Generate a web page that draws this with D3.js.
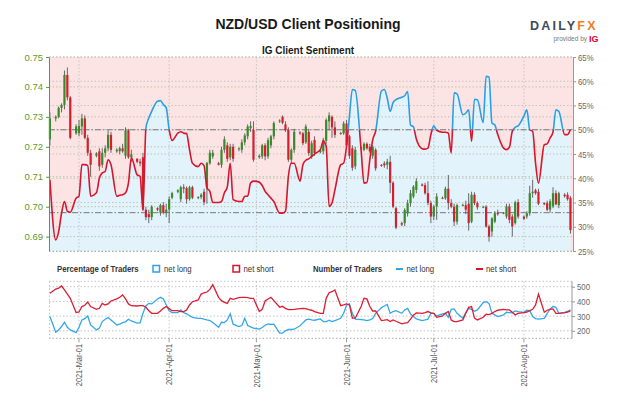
<!DOCTYPE html>
<html>
<head>
<meta charset="utf-8">
<script src="https://cdn.jsdelivr.net/npm/d3@7"></script>
<style>
  body { margin: 0; background: #fff; }
  svg { display: block; font-family: "Liberation Sans", Arial, sans-serif; }
</style>
</head>
<body>
<svg id="chart" width="624" height="416"></svg>
<script>
// one row per week (Sun..Fri), [open, high, low, close]
const ohlc = [
  [.7225,.7315,.7205,.7295],
  [.7295,.7305,.7285,.7300],[.7300,.7335,.7295,.7330],[.7330,.7345,.7315,.7340],[.7340,.7455,.7325,.7440],[.7440,.7465,.7355,.7365],[.7365,.7370,.7225,.7230],
  [.7245,.7275,.7240,.7268],[.7245,.7290,.7235,.7270],[.7268,.7310,.7240,.7295],[.7295,.7305,.7225,.7230],[.7230,.7240,.7170,.7180],[.7180,.7190,.7100,.7140],
  [.7170,.7182,.7165,.7178],[.7185,.7195,.7120,.7135],[.7140,.7195,.7130,.7180],[.7180,.7205,.7165,.7195],[.7195,.7255,.7185,.7240],[.7240,.7250,.7180,.7190],
  [.7185,.7195,.7180,.7190],[.7185,.7200,.7175,.7195],[.7195,.7210,.7180,.7185],[.7170,.7265,.7160,.7255],[.7255,.7260,.7160,.7165],[.7165,.7190,.7150,.7175],
  [.7160,.7162,.7145,.7150],[.7150,.7160,.7135,.7145],[.7165,.7180,.6985,.6990],[.6990,.7000,.6955,.6965],[.6975,.6990,.6945,.6965],[.6965,.7005,.6955,.7000],
  [.6995,.6998,.6985,.6990],[.6980,.7010,.6970,.7005],[.7005,.7015,.6975,.6980],[.6980,.7010,.6965,.6990],[.6990,.7035,.6945,.7025],[.7030,.7050,.7025,.7045],
  [.7050,.7058,.7045,.7055],[.7025,.7070,.7015,.7065],[.7065,.7075,.7045,.7060],[.7062,.7068,.7010,.7025],[.7025,.7070,.7020,.7065],[.7065,.7070,.7025,.7030],
  [.7030,.7035,.7025,.7032],[.7032,.7045,.7025,.7040],[.7050,.7060,.7005,.7015],[.7062,.7150,.7010,.7146],[.7145,.7190,.7140,.7180],[.7168,.7190,.7160,.7180],
  [.7145,.7150,.7138,.7140],[.7140,.7200,.7130,.7190],[.7190,.7235,.7180,.7225],[.7205,.7215,.7150,.7160],[.7165,.7210,.7155,.7200],[.7200,.7210,.7150,.7160],
  [.7192,.7198,.7185,.7195],[.7190,.7225,.7180,.7215],[.7215,.7245,.7205,.7238],[.7235,.7275,.7225,.7268],[.7262,.7285,.7250,.7270],[.7257,.7285,.7150,.7157],
  [.7165,.7175,.7160,.7170],[.7168,.7210,.7160,.7205],[.7205,.7212,.7155,.7168],[.7168,.7230,.7160,.7222],[.7205,.7240,.7195,.7235],[.7235,.7285,.7225,.7279],
  [.7285,.7292,.7280,.7288],[.7300,.7305,.7275,.7280],[.7275,.7285,.7250,.7255],[.7257,.7265,.7150,.7157],[.7157,.7195,.7145,.7190],[.7190,.7260,.7180,.7250],
  [.7248,.7252,.7240,.7246],[.7245,.7250,.7205,.7212],[.7215,.7275,.7210,.7268],[.7250,.7260,.7170,.7179],[.7168,.7220,.7160,.7212],[.7223,.7235,.7170,.7179],
  [.7182,.7192,.7178,.7188],[.7185,.7230,.7175,.7223],[.7220,.7295,.7210,.7290],[.7285,.7315,.7255,.7305],[.7300,.7305,.7230,.7265],[.7265,.7285,.7230,.7240],
  [.7245,.7250,.7240,.7246],[.7245,.7285,.7240,.7278],[.7278,.7290,.7195,.7205],[.7235,.7240,.7160,.7170],[.7195,.7205,.7120,.7130],[.7135,.7200,.7125,.7190],
  [.7195,.7200,.7190,.7198],[.7190,.7215,.7185,.7210],[.7210,.7215,.7190,.7195],[.7200,.7210,.7180,.7185],[.7170,.7205,.7160,.7200],[.7190,.7195,.7120,.7128],
  [.7140,.7142,.7133,.7138],[.7145,.7152,.7130,.7138],[.7140,.7160,.7125,.7150],[.7150,.7170,.7045,.7080],[.7080,.7085,.6995,.7000],[.6995,.7000,.6925,.6930],
  [.6945,.6950,.6935,.6940],[.6945,.6995,.6935,.6989],[.6978,.7023,.6967,.7012],[.7012,.7056,.7000,.7045],[.7034,.7072,.7028,.7067],[.7056,.7095,.7045,.7085],
  [.7074,.7078,.7068,.7070],[.7072,.7080,.7040,.7045],[.7045,.7085,.7005,.7012],[.7012,.7020,.6945,.6967],[.6967,.7005,.6955,.7001],[.7001,.7045,.6956,.7034],
  [.7030,.7034,.7025,.7028],[.7028,.7067,.7023,.7060],[.7060,.7106,.6990,.7012],[.7012,.7025,.6995,.7000],[.7000,.7010,.6935,.6950],[.6950,.7010,.6940,.7005],
  [.7005,.7010,.7002,.7006],[.7005,.7020,.6975,.6990],[.7010,.7045,.6920,.6945],[.6950,.7050,.6945,.7040],[.7040,.7048,.7005,.7012],[.7012,.7018,.6990,.6998],
  [.6998,.7003,.6995,.7000],[.7000,.7005,.6930,.6934],[.6934,.6940,.6883,.6900],[.6917,.6965,.6900,.6961],[.6950,.6985,.6945,.6978],[.6980,.6990,.6970,.6975],
  [.6978,.6982,.6975,.6980],[.6967,.7010,.6960,.7001],[.7001,.7010,.6945,.6956],[.6967,.6975,.6900,.6934],[.6945,.7020,.6940,.7015],[.7015,.7025,.6960,.6967],
  [.6967,.6970,.6955,.6960],[.6967,.6985,.6960,.6978],[.6978,.7070,.6970,.7045],[.7045,.7090,.7030,.7050],[.7055,.7060,.7040,.7045],[.7050,.7060,.7005,.7010],
  [.7012,.7015,.7005,.7008],[.7012,.7020,.6985,.6990],[.6990,.7025,.6980,.7018],[.7001,.7065,.6995,.7045],[.7045,.7055,.7005,.7008],[.7005,.7050,.6995,.7045],
  [.7040,.7045,.7030,.7035],[.7040,.7048,.7020,.7025],[.7030,.7035,.6910,.6922]
];

// % of clients net long
const netLongPct = [
  39.7,
  27.3,29.0,32.8,35.2,33.2,33.0,
  35.9,36.3,42.8,42.8,42.6,36.3,
  37.0,40.0,41.1,41.4,43.8,42.8,
  36.3,36.5,36.6,37.0,39.0,44.2,
  40.7,40.4,33.6,50.3,52.4,53.8,
  55.9,56.0,55.2,54.5,50.0,47.8,
  49.3,49.6,49.3,49.2,45.9,43.1,
  42.4,43.1,42.6,38.0,37.3,35.0,
  35.0,35.2,37.0,38.2,43.1,35.6,
  35.2,35.2,36.3,36.3,39.0,39.4,
  39.2,38.5,37.3,36.6,35.9,35.2,
  32.8,32.8,33.2,40.4,43.1,43.1,
  39.4,42.8,43.7,44.0,44.5,45.0,
  45.9,47.6,46.6,34.2,34.9,37.6,
  42.8,43.1,46.6,52.8,58.3,58.1,
  45.9,39.0,39.1,43.8,47.9,49.7,
  58.0,58.3,56.5,53.8,55.6,56.2,
  56.7,57.0,57.9,51.0,50.6,48.1,
  46.1,46.0,46.2,49.0,50.8,49.9,
  49.5,49.5,49.3,45.2,57.6,57.4,
  53.1,53.4,54.1,47.6,56.3,56.2,
  51.5,61.0,60.9,51.4,51.0,49.0,
  46.2,45.9,46.4,49.7,50.5,50.8,
  52.8,54.1,50.0,49.7,43.1,39.0,
  46.9,47.1,48.3,49.5,54.1,53.8,
  49.0,49.0,50.1
];

const longTraders = [
  297,
  190,206,229,258,224,206,
  188,224,274,283,301,240,
  206,218,263,279,290,274,
  240,245,256,261,279,267,
  252,254,319,369,387,383,
  417,428,417,376,337,324,
  324,342,324,315,304,292,
  285,285,279,274,270,256,
  224,258,256,274,315,245,
  229,236,285,236,227,218,
  211,222,238,247,243,245,
  184,184,200,209,209,211,
  234,254,274,279,274,272,
  281,263,263,272,263,270,
  285,319,374,383,319,279,
  276,274,270,274,283,319,
  358,369,380,319,331,337,
  319,342,353,315,297,281,
  270,274,279,319,319,301,
  315,319,292,346,349,319,
  285,324,353,346,333,342,
  392,398,387,319,308,297,
  308,326,324,322,335,331,
  326,340,337,297,283,279,
  285,319,349,365,360,319,
  324,333,342
];

const shortTraders = [
  455,
  484,491,505,478,450,421,
  324,328,365,374,396,365,
  346,353,387,376,383,403,
  417,428,444,417,383,371,
  369,371,371,360,337,319,
  319,335,353,365,351,337,
  337,331,331,342,376,398,
  410,450,459,464,482,514,
  428,405,394,387,421,414,
  426,428,428,426,421,421,
  331,346,403,417,428,405,
  360,367,353,344,344,346,
  351,353,351,344,340,331,
  319,319,421,459,466,478,
  371,376,383,376,286,286,
  365,421,417,365,335,335,
  270,272,276,263,274,265,
  247,252,256,279,306,322,
  319,324,331,322,319,292,
  301,319,331,274,263,263,
  274,319,360,365,286,274,
  292,313,310,319,331,340,
  346,342,342,326,308,319,
  324,328,337,346,376,450,
  326,340,346,349,319,319,
  324,328,335
];

const priceTicks = [0.69, 0.70, 0.71, 0.72, 0.73, 0.74, 0.75];
const pctTicks = [25, 30, 35, 40, 45, 50, 55, 60, 65];
const traderTicks = [200, 300, 400, 500];
const monthTicks = ["2021-03-01", "2021-04-01", "2021-05-01", "2021-06-01", "2021-07-01", "2021-08-01"];
const refPrice = 0.698;
const refPct = 50;

// days with a candle: every day but Saturday
const days = [];
for (let t = Date.UTC(2021, 1, 19); t <= Date.UTC(2021, 7, 17); t += 864e5) {
  if (new Date(t).getUTCDay() !== 6) days.push(new Date(t));
}
const rows = days.map((d, i) => ({
  date: d, o: ohlc[i][0], h: ohlc[i][1], l: ohlc[i][2], c: ohlc[i][3],
  pct: netLongPct[i], long: longTraders[i], short: shortTraders[i]
}));
const months = monthTicks.map(s => new Date(s + "T00:00:00Z"));

const NARROW = 0.82; // no condensed face installed, squeeze the glyphs instead

function narrowText(parent, px, py, str, size, opts) {
  const t = parent.append("text")
    .attr("transform", `translate(${px},${py}) scale(${NARROW},1)`)
    .attr("font-size", size).text(str);
  Object.entries(opts || {}).forEach(([k, v]) => t.attr(k, v));
  return t;
}

const svg = d3.select("#chart");
svg.append("rect").attr("width", 624).attr("height", 416).attr("fill", "#fff");

const L = 49, R = 573, T = 57, B = 251;
const x = d3.scaleUtc().domain([Date.UTC(2021, 1, 18, 16, 25), Date.UTC(2021, 7, 17, 21)]).range([L, R]);
const yPrice = d3.scaleLinear().domain([0.6852, 0.75]).range([B, T]);
const yPct = d3.scaleLinear().domain([25, 65]).range([B, T]);

// titles
svg.append("text").attr("x", 308).attr("y", 29).attr("text-anchor", "middle")
  .attr("font-size", 14).attr("font-weight", "bold").attr("fill", "#1a1a1a")
  .text("NZD/USD Client Positioning");
svg.append("text").attr("x", 308).attr("y", 54).attr("text-anchor", "middle")
  .attr("font-size", 10).attr("font-weight", "bold").attr("fill", "#1a1a1a")
  .text("IG Client Sentiment");

// logo
const logo = svg.append("text").attr("x", 530).attr("y", 30)
  .attr("font-size", 12.5).attr("font-weight", "bold").attr("letter-spacing", 2.2);
logo.append("tspan").attr("fill", "#3e4a59").text("DAILY");
logo.append("tspan").attr("fill", "#f47c20").text("FX");
svg.append("text").attr("x", 587).attr("y", 41).attr("text-anchor", "end")
  .attr("font-size", 6.5).attr("fill", "#777").text("provided by");
svg.append("text").attr("x", 589).attr("y", 42)
  .attr("font-size", 9).attr("font-weight", "bold").attr("fill", "#e4002b").text("IG");

// sentiment background
svg.append("rect").attr("x", L).attr("y", T).attr("width", R - L).attr("height", B - T).attr("fill", "#fde4e4");
svg.append("path").datum(rows)
  .attr("fill", "#e3f3fc")
  .attr("d", d3.area().x(d => x(d.date)).y0(B).y1(d => yPct(d.pct)).curve(d3.curveMonotoneX));

// grid
const grid = svg.append("g").attr("fill", "none").attr("stroke-dasharray", "1.5,2");
grid.selectAll(".gp").data(priceTicks).join("line")
  .attr("x1", L).attr("x2", R).attr("y1", d => yPrice(d)).attr("y2", d => yPrice(d))
  .attr("stroke", "#b7c6a4");
grid.selectAll(".gq").data(pctTicks).join("line")
  .attr("x1", L).attr("x2", R).attr("y1", d => yPct(d)).attr("y2", d => yPct(d))
  .attr("stroke", "#c4c4c4");
grid.selectAll(".gm").data(months).join("line")
  .attr("x1", d => x(d)).attr("x2", d => x(d)).attr("y1", T).attr("y2", B)
  .attr("stroke", "#c4c4c4");

// reference lines
svg.append("line").attr("x1", L).attr("x2", R).attr("y1", yPct(refPct)).attr("y2", yPct(refPct))
  .attr("stroke", "#777").attr("stroke-dasharray", "6,2,1.5,2");
svg.append("line").attr("x1", L).attr("x2", R).attr("y1", yPrice(refPrice)).attr("y2", yPrice(refPrice))
  .attr("stroke", "#777").attr("stroke-dasharray", "6,2,1.5,2");

// candles
const cg = svg.append("g");
cg.selectAll("line").data(rows).join("line")
  .attr("x1", d => x(d.date)).attr("x2", d => x(d.date))
  .attr("y1", d => yPrice(Math.max(d.h, d.o, d.c))).attr("y2", d => yPrice(Math.min(d.l, d.o, d.c)))
  .attr("stroke", "#666").attr("stroke-width", 1);
cg.selectAll("rect").data(rows).join("rect")
  .attr("x", d => x(d.date) - 1.1).attr("width", 2.2)
  .attr("y", d => yPrice(Math.max(d.o, d.c)))
  .attr("height", d => Math.max(1, Math.abs(yPrice(d.o) - yPrice(d.c))))
  .attr("fill", d => d.c >= d.o ? "#3a8a2c" : "#d3202f");

// sentiment line, blue above 50%, red below
const defs = svg.append("defs");
defs.append("clipPath").attr("id", "above").append("rect")
  .attr("x", L).attr("y", T - 5).attr("width", R - L).attr("height", yPct(50) - T + 5);
defs.append("clipPath").attr("id", "below").append("rect")
  .attr("x", L).attr("y", yPct(50)).attr("width", R - L).attr("height", B - yPct(50) + 5);
const sLine = d3.line().x(d => x(d.date)).y(d => yPct(d.pct)).curve(d3.curveMonotoneX);
svg.append("path").datum(rows).attr("d", sLine).attr("fill", "none")
  .attr("stroke", "#2b9fe4").attr("stroke-width", 1.6).attr("clip-path", "url(#above)");
svg.append("path").datum(rows).attr("d", sLine).attr("fill", "none")
  .attr("stroke", "#d7152c").attr("stroke-width", 1.6).attr("clip-path", "url(#below)");

// axes
const axL = svg.append("g").attr("transform", `translate(${L},0)`)
  .call(d3.axisLeft(yPrice).tickValues(priceTicks).tickFormat(d3.format(".2f")).tickSize(3).tickSizeOuter(0))
  .attr("color", "#5e9a2e");
axL.selectAll("text").attr("font-size", 9.5).attr("font-family", "Liberation Sans, Arial, sans-serif").attr("fill", "#5e9a2e");
svg.append("line").attr("x1", L).attr("x2", R).attr("y1", B + 0.5).attr("y2", B + 0.5)
  .attr("stroke", "#9fb98a").attr("stroke-dasharray", "1.5,2");

const axR = svg.append("g").attr("transform", `translate(${R},0)`)
  .call(d3.axisRight(yPct).tickValues(pctTicks).tickFormat(d => d + "%").tickSize(3).tickSizeOuter(0))
  .attr("color", "#999");
axR.selectAll("text").attr("font-size", 9.5).attr("fill", "#666")
  .attr("x", 5 / NARROW).attr("transform", `scale(${NARROW},1)`);

// legend
const lg = svg.append("g").attr("fill", "#333");
narrowText(lg, 57, 272, "Percentage of Traders", 9.5, { "font-weight": "bold" });
lg.append("rect").attr("x", 153).attr("y", 265.5).attr("width", 6.5).attr("height", 6.5)
  .attr("fill", "#fff").attr("stroke", "#2ea3e6").attr("stroke-width", 1.5);
narrowText(lg, 164, 272, "net long", 9.5);
lg.append("rect").attr("x", 233).attr("y", 265.5).attr("width", 6.5).attr("height", 6.5)
  .attr("fill", "#fff").attr("stroke", "#d7152c").attr("stroke-width", 1.5);
narrowText(lg, 243.5, 272, "net short", 9.5);
narrowText(lg, 313, 272, "Number of Traders", 9.5, { "font-weight": "bold" });
lg.append("line").attr("x1", 396).attr("x2", 403).attr("y1", 269).attr("y2", 269)
  .attr("stroke", "#2ea3e6").attr("stroke-width", 2);
narrowText(lg, 406.5, 272, "net long", 9.5);
lg.append("line").attr("x1", 476).attr("x2", 483).attr("y1", 269).attr("y2", 269)
  .attr("stroke", "#d7152c").attr("stroke-width", 2);
narrowText(lg, 486, 272, "net short", 9.5);

// traders panel
const PT = 281.3, PB = 338.3, PR = 572;
const yTr = d3.scaleLinear().domain([149, 537]).range([PB, PT]);
const g2 = svg.append("g").attr("fill", "none").attr("stroke", "#c4c4c4").attr("stroke-dasharray", "1.5,2");
g2.selectAll(".h").data(traderTicks).join("line")
  .attr("x1", L).attr("x2", PR).attr("y1", d => yTr(d)).attr("y2", d => yTr(d));
g2.selectAll(".v").data(months).join("line")
  .attr("x1", d => x(d)).attr("x2", d => x(d)).attr("y1", PT).attr("y2", PB);
g2.append("line").attr("x1", L).attr("x2", PR).attr("y1", PT).attr("y2", PT);
g2.append("line").attr("x1", L).attr("x2", PR).attr("y1", PB).attr("y2", PB).attr("stroke", "#aaa");
g2.append("line").attr("x1", L + 0.5).attr("x2", L + 0.5).attr("y1", PT).attr("y2", PB);

svg.append("path").datum(rows).attr("fill", "none").attr("stroke", "#33a7ea").attr("stroke-width", 1.3)
  .attr("d", d3.line().x(d => x(d.date)).y(d => yTr(d.long)));
svg.append("path").datum(rows).attr("fill", "none").attr("stroke", "#dc1d33").attr("stroke-width", 1.3)
  .attr("d", d3.line().x(d => x(d.date)).y(d => yTr(d.short)));

const axT = svg.append("g").attr("transform", `translate(${PR},0)`)
  .call(d3.axisRight(yTr).tickValues(traderTicks).tickSize(3).tickSizeOuter(0))
  .attr("color", "#999");
axT.select(".domain").attr("d", `M0,${PT}V${PB}`);
axT.selectAll("text").attr("font-size", 9.5).attr("fill", "#666")
  .attr("x", 5 / NARROW).attr("transform", `scale(${NARROW},1)`);

// month ticks and labels
svg.append("g").selectAll("line").data(months).join("line")
  .attr("x1", d => x(d)).attr("x2", d => x(d)).attr("y1", PB).attr("y2", PB + 4)
  .attr("stroke", "#999");
svg.append("g").selectAll("text").data(months).join("text")
  .attr("transform", d => `translate(${x(d)},344) rotate(-90) scale(${NARROW},1)`)
  .attr("text-anchor", "end").attr("dy", "0.35em")
  .attr("font-size", 9).attr("fill", "#555")
  .text(d => d3.utcFormat("%Y-%b-%d")(d));
</script>
</body>
</html>
